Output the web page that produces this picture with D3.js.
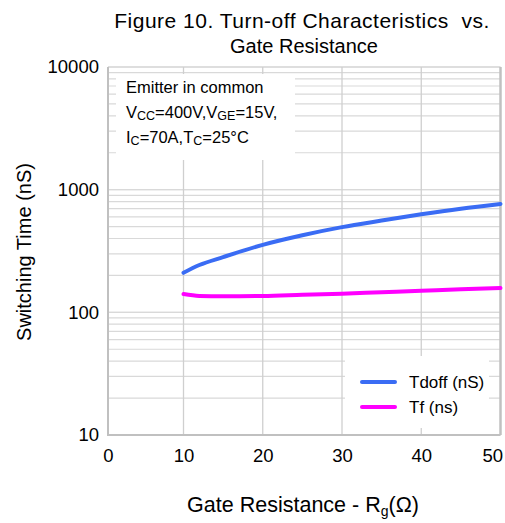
<!DOCTYPE html>
<html><head><meta charset="utf-8">
<script src="https://cdn.jsdelivr.net/npm/d3@7"></script>
<style>body{margin:0;background:#fff}svg{display:block}text{font-family:"Liberation Sans",Arial,sans-serif;fill:#000;white-space:pre}</style>
</head><body><svg id="c" width="505" height="523"></svg>
<script>
const rg = [10, 12, 15, 20, 25, 30, 35, 40, 45, 50];
const tdoff = [210, 243, 282, 355, 425, 495, 560, 630, 700, 765];
const tf = [141, 136, 135, 136, 139, 142, 146, 150, 154, 158];
const xTicks = [0, 10, 20, 30, 40, 50];
const yTicks = [10, 100, 1000, 10000];
const seriesNames = ["Tdoff (nS)", "Tf (ns)"];
const colors = ["#3a6cf4", "#ff00ff"];

const svg = d3.select("#c");
const L = 108, R = 500.5, T = 67, B = 435;
const x = d3.scaleLinear().domain([0, 10, 50]).range([L, 183.5, R]);
const y = d3.scaleLog().domain([10, 10000]).range([B, T]);

// minor + major horizontal grid
const minor = [];
for (let d = 10; d < 10000; d *= 10) for (let k = 1; k <= 10; k++) minor.push(d * k);
svg.append("g").selectAll("line").data(minor).join("line")
  .attr("x1", L).attr("x2", R).attr("y1", d => y(d)).attr("y2", d => y(d))
  .attr("stroke", "#d9d9d9").attr("stroke-width", 1.2);
// vertical grid
svg.append("g").selectAll("line").data([10, 20, 30, 40]).join("line")
  .attr("x1", d => x(d)).attr("x2", d => x(d)).attr("y1", T).attr("y2", B)
  .attr("stroke", "#cfcfcf").attr("stroke-width", 1.3);

// borders
svg.append("line").attr("x1", L).attr("x2", R).attr("y1", T).attr("y2", T).attr("stroke", "#d0d0d0").attr("stroke-width", 1);
svg.append("line").attr("x1", R).attr("x2", R).attr("y1", T).attr("y2", B).attr("stroke", "#c0c0c0").attr("stroke-width", 2.5);
svg.append("line").attr("x1", L).attr("x2", L).attr("y1", T).attr("y2", B + 1).attr("stroke", "#c0c0c0").attr("stroke-width", 2);
svg.append("line").attr("x1", L).attr("x2", R).attr("y1", B).attr("y2", B).attr("stroke", "#c0c0c0").attr("stroke-width", 2);

// axes labels via d3 axes
const xa = svg.append("g").attr("transform", `translate(0,${B})`)
  .call(d3.axisBottom(x).tickValues(xTicks).tickFormat(d3.format("d")).tickSize(0).tickPadding(14));
xa.select(".domain").remove();
xa.selectAll("text").attr("font-size", 18.5).attr("fill", "#000").attr("font-family", "Liberation Sans, Arial, sans-serif");
xa.selectAll(".tick").filter(d => d === 50).select("text").attr("text-anchor", "end").attr("x", 2);
const ya = svg.append("g").attr("transform", `translate(${L},0)`)
  .call(d3.axisLeft(y).tickValues(yTicks).tickFormat(d3.format("d")).tickSize(0).tickPadding(9));
ya.select(".domain").remove();
ya.selectAll("text").attr("font-size", 18.5).attr("fill", "#000").attr("font-family", "Liberation Sans, Arial, sans-serif");

// annotation box
svg.append("rect").attr("x", 116).attr("y", 74).attr("width", 179).attr("height", 86).attr("fill", "#fff");
const ann = svg.append("g").attr("font-size", 16.5);
ann.append("text").attr("x", 126).attr("y", 93).text("Emitter in common");
const t2 = ann.append("text").attr("x", 126).attr("y", 118);
t2.append("tspan").text("V");
t2.append("tspan").attr("font-size", 12.5).attr("dy", 2).text("CC");
t2.append("tspan").attr("dy", -2).text("=400V,V");
t2.append("tspan").attr("font-size", 12.5).attr("dy", 2).text("GE");
t2.append("tspan").attr("dy", -2).text("=15V,");
const t3 = ann.append("text").attr("x", 126).attr("y", 143);
t3.append("tspan").text("I");
t3.append("tspan").attr("font-size", 12.5).attr("dy", 2).text("C");
t3.append("tspan").attr("dy", -2).text("=70A,T");
t3.append("tspan").attr("font-size", 12.5).attr("dy", 2).text("C");
t3.append("tspan").attr("dy", -2).text("=25°C");

// series
const line = d3.line().x(d => x(d[0])).y(d => y(d[1])).curve(d3.curveMonotoneX);
[tdoff, tf].forEach((s, i) => {
  svg.append("path").attr("d", line(rg.map((r, j) => [r, s[j]])))
    .attr("fill", "none").attr("stroke", colors[i]).attr("stroke-width", 4).attr("stroke-linecap", "round");
});

// legend
svg.append("rect").attr("x", 345).attr("y", 356).attr("width", 144).attr("height", 72).attr("fill", "#fff");
seriesNames.forEach((n, i) => {
  const yy = 382 + i * 25;
  svg.append("line").attr("x1", 362).attr("x2", 395).attr("y1", yy).attr("y2", yy)
    .attr("stroke", colors[i]).attr("stroke-width", 4).attr("stroke-linecap", "round");
  svg.append("text").attr("x", 409).attr("y", yy + 6).attr("font-size", 17).text(n);
});

// titles
svg.append("text").attr("x", 302).attr("y", 28).attr("text-anchor", "middle").attr("font-size", 21)
  .attr("letter-spacing", 0.5).text("Figure 10. Turn-off Characteristics  vs.");
svg.append("text").attr("x", 304).attr("y", 53).attr("text-anchor", "middle").attr("font-size", 20)
  .text("Gate Resistance");
svg.append("text").attr("transform", "translate(31,252) rotate(-90)").attr("text-anchor", "middle").attr("font-size", 20)
  .text("Switching Time (nS)");
const xl = svg.append("text").attr("x", 303).attr("y", 512).attr("text-anchor", "middle").attr("font-size", 21.5);
xl.append("tspan").text("Gate Resistance - R");
xl.append("tspan").attr("font-size", 14).attr("dy", 4).text("g");
xl.append("tspan").attr("dy", -4).text("(Ω)");
</script></body></html>
